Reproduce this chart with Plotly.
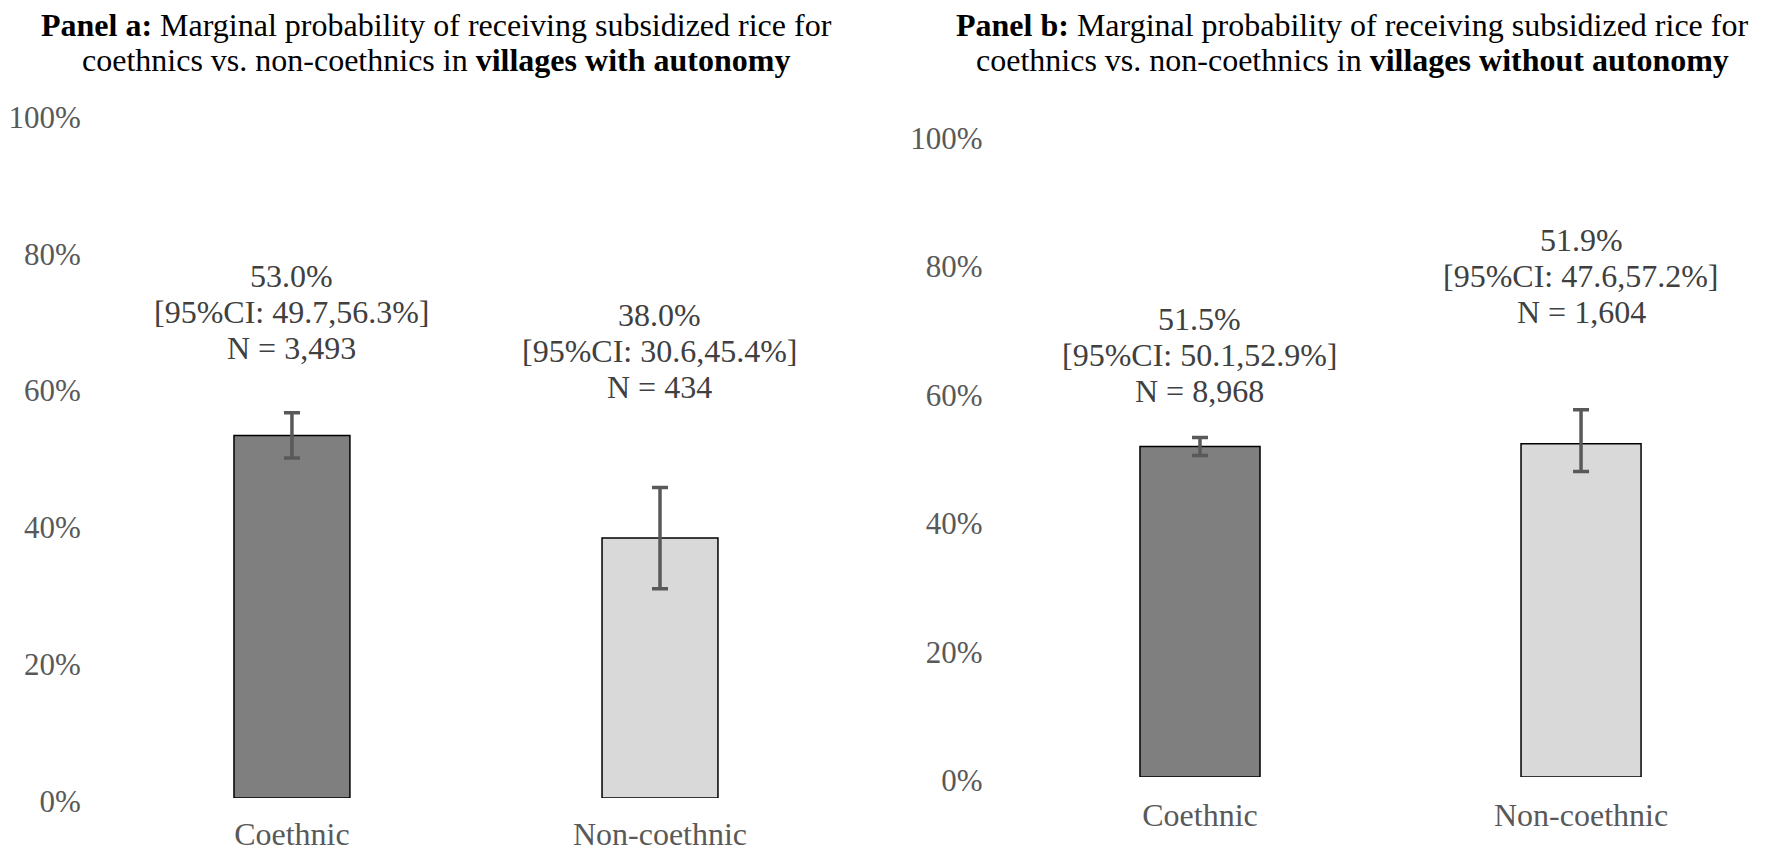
import plotly.graph_objects as go

# Marginal probability of receiving subsidized rice, by group and village type
categories = ["Coethnic", "Non-coethnic"]

autonomy_prob = [0.530, 0.380]
autonomy_ci_low = [0.497, 0.306]
autonomy_ci_high = [0.563, 0.454]
autonomy_n = ["3,493", "434"]

no_autonomy_prob = [0.515, 0.519]
no_autonomy_ci_low = [0.501, 0.476]
no_autonomy_ci_high = [0.529, 0.572]
no_autonomy_n = ["8,968", "1,604"]

y_ticks = [0, 0.2, 0.4, 0.6, 0.8, 1.0]
y_tick_labels = ["0%", "20%", "40%", "60%", "80%", "100%"]

bar_colors = ["#7f7f7f", "#d9d9d9"]
FONT = "Liberation Serif, Times New Roman, serif"
TICK_COLOR = "#595959"
LABEL_COLOR = "#404040"
TEXT_SIZE = 32
TICK_SIZE = 31
W, H = 1781, 853

fig = go.Figure()


def add_panel(prob, lo, hi, xref, yref):
    fig.add_trace(go.Bar(
        x=categories, y=prob, width=0.315,
        marker=dict(color=bar_colors, line=dict(color="#000000", width=1.5)),
        error_y=dict(
            type="data",
            array=[h - p for h, p in zip(hi, prob)],
            arrayminus=[p - l for p, l in zip(prob, lo)],
            color="#595959", thickness=3.5, width=8,
        ),
        xaxis=xref, yaxis=yref, showlegend=False, hoverinfo="skip",
    ))


add_panel(autonomy_prob, autonomy_ci_low, autonomy_ci_high, "x", "y")
add_panel(no_autonomy_prob, no_autonomy_ci_low, no_autonomy_ci_high, "x2", "y2")


def x_axis(domain, anchor, standoff):
    return dict(
        domain=domain, anchor=anchor,
        type="category", range=[-0.5, 1.5], showgrid=False, zeroline=False,
        showline=False, ticks="", automargin=False,
        tickfont=dict(family=FONT, size=TEXT_SIZE, color=TICK_COLOR),
        ticklabelstandoff=standoff, fixedrange=True,
    )


def y_axis(domain, anchor):
    return dict(
        domain=domain, anchor=anchor,
        range=[0, 1.0], tickvals=y_ticks, ticktext=y_tick_labels, showgrid=False,
        zeroline=False, showline=False, ticks="", automargin=False,
        tickfont=dict(family=FONT, size=TICK_SIZE, color=TICK_COLOR),
        ticklabelstandoff=26, ticklabelshift=3, fixedrange=True,
    )


fig.update_layout(
    width=W, height=H,
    margin=dict(l=0, r=0, t=0, b=0, pad=0),
    paper_bgcolor="white", plot_bgcolor="white",
    xaxis=x_axis([0.0606, 0.4739], "y", 14),
    yaxis=y_axis([0.0645, 0.8665], "x"),
    xaxis2=x_axis([0.5668, 0.9947], "y2", 16),
    yaxis2=y_axis([0.0890, 0.8417], "x2"),
)

# Panel titles, one annotation per line (pixel rows 25 and 60 from the top)
title_lines = [
    (436, ["<b>Panel a:</b> Marginal probability of receiving subsidized rice for",
           "coethnics vs. non-coethnics in <b>villages with autonomy</b>"]),
    (1352, ["<b>Panel b:</b> Marginal probability of receiving subsidized rice for",
            "coethnics vs. non-coethnics in <b>villages without autonomy</b>"]),
]
for cx, lines in title_lines:
    for row_y, line in zip([25, 60], lines):
        fig.add_annotation(
            x=cx / W, y=1 - row_y / H, xref="paper", yref="paper", text=line,
            showarrow=False, xanchor="center", yanchor="middle",
            font=dict(family=FONT, size=TEXT_SIZE, color="#000000"),
        )

# Value labels: estimate, confidence interval and sample size, one line each
LINE_STEP = 36
label_mid = {("x", "y"): [0.710, 0.654], ("x2", "y2"): [0.658, 0.780]}
panels = [
    ("x", "y", autonomy_prob, autonomy_ci_low, autonomy_ci_high, autonomy_n),
    ("x2", "y2", no_autonomy_prob, no_autonomy_ci_low, no_autonomy_ci_high, no_autonomy_n),
]
for xr, yr, prob, lo, hi, ns in panels:
    for i, cat in enumerate(categories):
        lines = [
            f"{prob[i] * 100:.1f}%",
            f"[95%CI: {lo[i] * 100:.1f},{hi[i] * 100:.1f}%]",
            f"N = {ns[i]}",
        ]
        for k, line in enumerate(lines):
            fig.add_annotation(
                x=cat, y=label_mid[(xr, yr)][i], xref=xr, yref=yr,
                yshift=(1 - k) * LINE_STEP, text=line, showarrow=False,
                xanchor="center", yanchor="middle",
                font=dict(family=FONT, size=TEXT_SIZE, color=LABEL_COLOR),
            )

fig.write_html("out.html")
